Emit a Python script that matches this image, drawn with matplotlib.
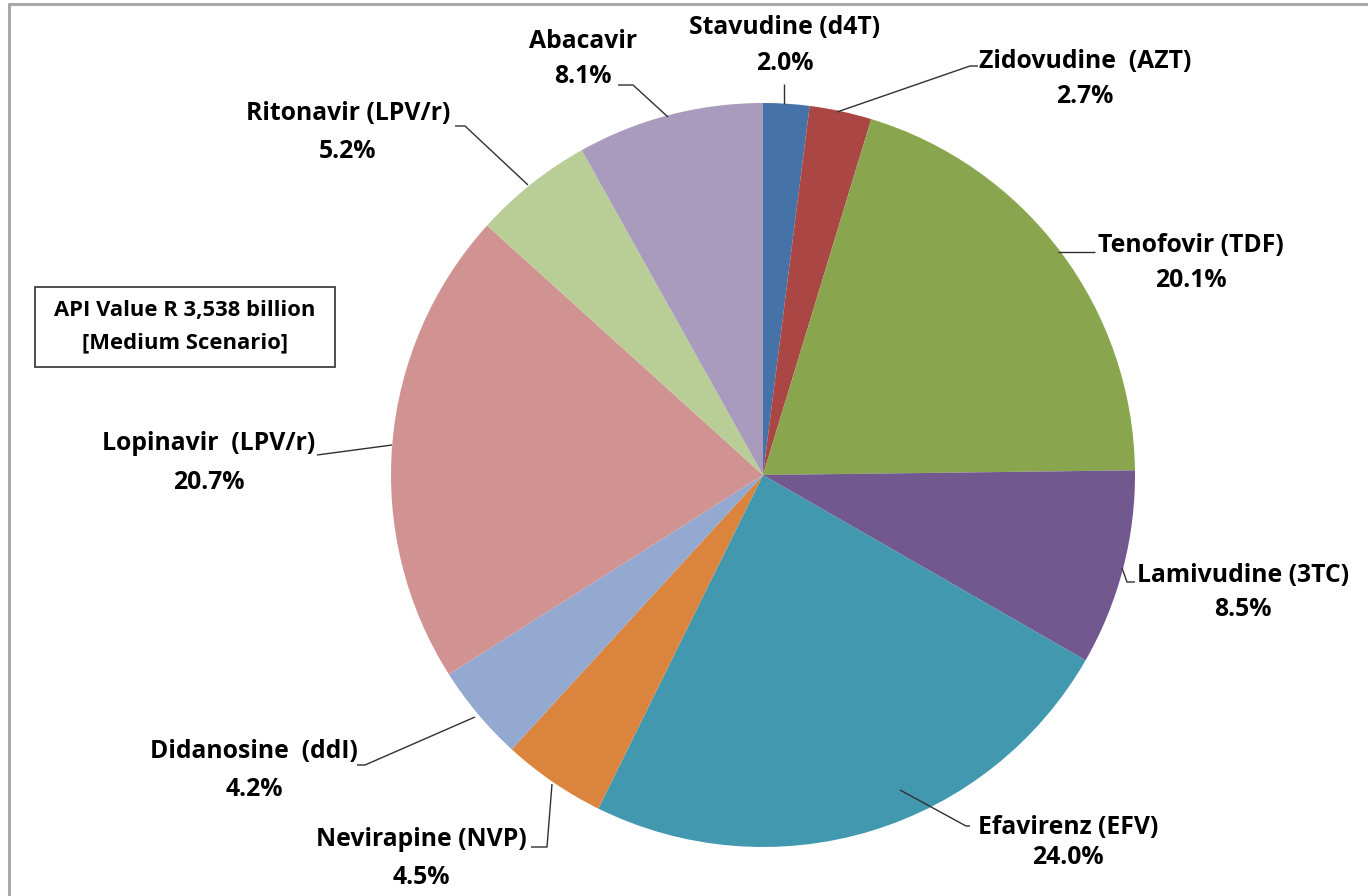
import matplotlib
matplotlib.use("Agg")
import matplotlib.pyplot as plt
from matplotlib.patches import Rectangle

# ---- data ----
drugs = ["Stavudine (d4T)", "Zidovudine  (AZT)", "Tenofovir (TDF)", "Lamivudine (3TC)",
         "Efavirenz (EFV)", "Nevirapine (NVP)", "Didanosine  (ddI)", "Lopinavir  (LPV/r)",
         "Ritonavir (LPV/r)", "Abacavir"]
shares = [2.0, 2.7, 20.1, 8.5, 24.0, 4.5, 4.2, 20.7, 5.2, 8.1]
colors = ["#4572A7", "#AA4643", "#89A54E", "#71588F", "#4198AF",
          "#DB843D", "#93A9CF", "#D19392", "#B9CD96", "#A99BBD"]
box_lines = ["API Value R 3,538 billion", "[Medium Scenario]"]

W, H = 1368, 896
fig = plt.figure(figsize=(W / 100, H / 100), dpi=100)
ax = fig.add_axes([0, 0, 1, 1])

def P(x, y):
    return (x, H - y)

# pie
ax.pie(shares, colors=colors, startangle=90, counterclock=False,
       center=P(763, 475), radius=372, frame=True,
       wedgeprops=dict(linewidth=0))
ax.set_xlim(0, W)
ax.set_ylim(0, H)
ax.set_aspect("equal")
ax.axis("off")

# label layout (pixel positions): (x_center, y_name, y_pct)
label_pos = [(785, 27, 63), (1085, 61, 96), (1191, 245, 280), (1243, 575, 610),
             (1068, 827, 858), (421, 840, 878), (254, 752, 790), (209, 443, 482),
             (348, 113, 151), (583, 41, 76)]
leaders = [
    [(784, 84), (784, 104)],
    [(837, 112), (970, 66), (978, 66)],
    [(1058, 252), (1095, 252)],
    [(1122, 568), (1127, 582), (1135, 582)],
    [(900, 790), (966, 826), (970, 826)],
    [(552, 784), (547, 847), (531, 847)],
    [(475, 717), (365, 765), (357, 765)],
    [(392, 445), (317, 455)],
    [(528, 185), (465, 126), (455, 126)],
    [(668, 117), (633, 85), (618, 85)],
]

fs = 17.8
font = dict(family=["Open Sans", "DejaVu Sans"], fontweight="bold", color="black")
for name, v, (xc, y1, y2), pts in zip(drugs, shares, label_pos, leaders):
    ax.text(*P(xc, y1), name, ha="center", va="center", fontsize=fs, **font)
    ax.text(*P(xc, y2), f"{v:.1f}%", ha="center", va="center", fontsize=fs, **font)
    xs = [p[0] for p in pts]
    ys = [H - p[1] for p in pts]
    ax.plot(xs, ys, color="#303030", lw=1.0, solid_capstyle="butt")

# annotation box
ax.add_patch(Rectangle(P(35, 367), 300, 80, facecolor="white", edgecolor="#404040", lw=1.3))
ax.text(*P(185, 310), box_lines[0], ha="center", va="center", fontsize=15.8, **font)
ax.text(*P(185, 343), box_lines[1], ha="center", va="center", fontsize=15.8, **font)

# outer chart border (top and left visible)
ax.plot([9, 9, W + 10], [-10, H - 4, H - 4], color="#A8A8A8", lw=2.2)

fig.savefig("out.png", dpi=100, facecolor="white")
